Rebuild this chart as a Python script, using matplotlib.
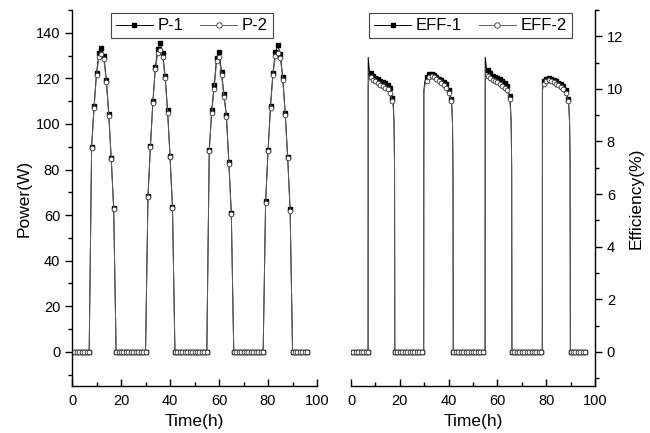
import matplotlib.pyplot as plt
from matplotlib.ticker import MultipleLocator

plt.rcParams['font.family'] = ['Liberation Sans', 'DejaVu Sans']

# hourly samples, four sunny days; nights read as zero
p_night = [(1, 7), (18, 30), (42, 55), (66, 78), (90, 96)]
p_day = [(8, 17), (31, 41), (56, 65), (79, 89)]

p1_day = [
    [90, 108, 122.5, 131, 133.5, 130, 119.5, 104.5, 85, 63],
    [68.5, 90.5, 110, 125, 133, 135.5, 131, 121, 106, 86, 63.5],
    [88.5, 106, 117, 129, 131.5, 123, 113, 104, 83.5, 61],
    [66, 88.5, 108, 122.5, 131.5, 134.5, 130.5, 120.5, 105, 85.5, 62.5],
]
p2_day = [
    [89.5, 107, 121.5, 129.5, 130.5, 128.5, 118.5, 103.5, 84.5, 62.5],
    [68, 90, 109, 124, 131, 132.5, 129.5, 120, 105, 85.5, 63],
    [88, 105, 115.5, 127.5, 129.5, 121.5, 112, 103, 82.5, 60.5],
    [65.5, 88, 107, 121.5, 130, 131, 129, 119.5, 104, 85, 62],
]

e_night = [(1, 7), (18, 29), (42, 54), (66, 78), (90, 96)]
e_day = p_day

eff1_day = [
    [10.6, 10.5, 10.42, 10.36, 10.3, 10.26, 10.21, 10.16, 10.05, 9.67],
    [10.45, 10.58, 10.58, 10.52, 10.45, 10.38, 10.32, 10.26, 10.18, 9.95, 9.62],
    [10.7, 10.59, 10.49, 10.45, 10.41, 10.36, 10.3, 10.24, 10.1, 9.73],
    [10.3, 10.39, 10.42, 10.39, 10.33, 10.3, 10.24, 10.17, 10.1, 9.95, 9.63],
]
eff2_day = [
    [10.45, 10.35, 10.3, 10.22, 10.15, 10.1, 10.05, 9.98, 9.85, 9.55],
    [10.3, 10.45, 10.48, 10.45, 10.38, 10.3, 10.22, 10.15, 10.05, 9.85, 9.55],
    [10.5, 10.42, 10.35, 10.3, 10.25, 10.2, 10.12, 10.05, 9.95, 9.6],
    [10.2, 10.3, 10.33, 10.3, 10.25, 10.2, 10.15, 10.08, 10.0, 9.85, 9.55],
]

# morning / evening transitions of the recorded efficiency trace (no symbols)
eff1_rise = [([7.05, 7.5], [11.2, 10.7]),
             ([29.8, 29.85, 30.3], [0, 9.95, 10.3]),
             ([54.95, 55.0, 55.5], [0, 11.2, 10.8]),
             ([78.4, 78.45, 78.75], [0, 10.0, 10.2])]
eff1_fall = [([17.35, 17.65, 17.85, 17.95], [9.4, 8.7, 7.0, 0]),
             ([41.35, 41.6, 41.8, 41.9], [9.35, 8.7, 7.0, 0]),
             ([65.35, 65.65, 65.85, 65.95], [9.4, 8.7, 7.0, 0]),
             ([89.3, 89.6, 89.8, 89.9], [9.35, 8.7, 7.0, 0])]
eff2_rise = [([7.05, 7.5], [10.2, 10.4]),
             ([29.8, 29.85, 30.3], [0, 9.8, 10.15]),
             ([54.95, 55.0, 55.5], [0, 10.3, 10.45]),
             ([78.4, 78.45, 78.75], [0, 9.9, 10.1])]
eff2_fall = [([17.35, 17.65, 17.85, 17.95], [9.25, 8.6, 6.9, 0]),
             ([41.35, 41.6, 41.8, 41.9], [9.25, 8.6, 6.9, 0]),
             ([65.35, 65.65, 65.85, 65.95], [9.25, 8.6, 6.9, 0]),
             ([89.3, 89.6, 89.8, 89.9], [9.25, 8.6, 6.9, 0])]


def build(nights, days, day_vals, rises=None, falls=None):
    t, v, mark = [], [], []
    for i, (a, b) in enumerate(nights):
        hrs = list(range(a, b + 1))
        t += hrs
        v += [0] * len(hrs)
        mark += [True] * len(hrs)
        if i >= len(days):
            continue
        if rises:
            t += rises[i][0]
            v += rises[i][1]
            mark += [False] * len(rises[i][0])
        hrs = list(range(days[i][0], days[i][1] + 1))
        t += hrs
        v += day_vals[i]
        mark += [True] * len(hrs)
        if falls:
            t += falls[i][0]
            v += falls[i][1]
            mark += [False] * len(falls[i][0])
    return t, v, mark


fig = plt.figure(figsize=(6.5, 4.33), dpi=100)
ax1 = fig.add_axes([0.1108, 0.1085, 0.377, 0.8684])
ax2 = fig.add_axes([0.540, 0.1085, 0.3754, 0.8684])

s1 = dict(color='black', lw=0.7, marker='s', ms=2.6, mfc='black', mec='black')
s2 = dict(color='#606060', lw=0.7, marker='o', ms=3.4, mfc='white', mec='#333333', mew=0.6)

t, v, m = build(p_night, p_day, p1_day)
ax1.plot(t, v, label='P-1', markevery=m, **s1)
t, v, m = build(p_night, p_day, p2_day)
ax1.plot(t, v, label='P-2', markevery=m, **s2)

t, v, m = build(e_night, e_day, eff1_day, eff1_rise, eff1_fall)
ax2.plot(t, v, label='EFF-1', markevery=m, **s1)
t, v, m = build(e_night, e_day, eff2_day, eff2_rise, eff2_fall)
ax2.plot(t, v, label='EFF-2', markevery=m, **s2)

for ax in (ax1, ax2):
    ax.set_xlim(0, 100)
    ax.xaxis.set_major_locator(MultipleLocator(20))
    ax.xaxis.set_minor_locator(MultipleLocator(10))
    ax.tick_params(axis='x', which='both', direction='in', labelsize=10.5, pad=6)
    ax.tick_params(axis='x', which='major', length=5, width=1)
    ax.tick_params(axis='x', which='minor', length=3, width=1)
    ax.spines['top'].set_visible(False)
    for s in ax.spines.values():
        s.set_linewidth(1.0)
    ax.set_xlabel('Time(h)', fontsize=12.5, labelpad=4)
    leg = ax.legend(loc='upper center', bbox_to_anchor=(0.49, 1.0), ncol=2,
                    fontsize=12, frameon=True, fancybox=False, framealpha=1,
                    edgecolor='#444444', handlelength=2.2, columnspacing=1.0,
                    handletextpad=0.3, borderpad=0.3, borderaxespad=0.2)
    leg.get_frame().set_linewidth(0.8)
    for h in leg.legend_handles:
        h.set_markersize(h.get_markersize() * 1.15)

ax1.set_ylim(-15, 150)
ax1.set_yticks(range(0, 141, 20))
ax1.yaxis.set_minor_locator(MultipleLocator(10))
ax1.spines['right'].set_visible(False)
ax1.tick_params(axis='y', which='both', direction='out', labelsize=10.5)
ax1.tick_params(axis='y', which='major', length=5, width=1)
ax1.tick_params(axis='y', which='minor', length=3, width=1)
ax1.set_ylabel('Power(W)', fontsize=12.5, labelpad=3)

ax2.set_ylim(-1.3, 13)
ax2.set_yticks(range(0, 13, 2))
ax2.yaxis.set_minor_locator(MultipleLocator(1))
ax2.spines['left'].set_visible(False)
ax2.yaxis.tick_right()
ax2.yaxis.set_label_position('right')
ax2.tick_params(axis='y', which='both', direction='out', labelsize=10.5)
ax2.tick_params(axis='y', which='major', length=5, width=1)
ax2.tick_params(axis='y', which='minor', length=3, width=1)
ax2.set_ylabel('Efficiency(%)', fontsize=12.5, labelpad=4)

fig.savefig('out.png', dpi=100)
